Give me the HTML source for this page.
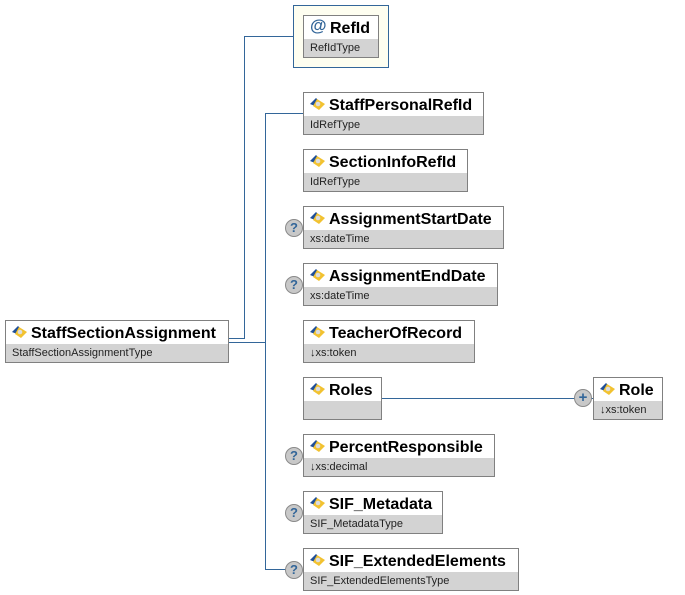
<!DOCTYPE html>
<html><head><style>
body{margin:0;width:685px;height:595px;background:#fff;position:relative;overflow:hidden;font-family:"Liberation Sans",Arial,sans-serif}
.b{position:absolute;border:1px solid #808080;box-sizing:border-box;background:#d3d3d3}
.b .h{height:23px;background:#fff;font-weight:bold;font-size:16px;line-height:25px;padding-left:25px;white-space:nowrap;position:relative}
.b .t{font-size:11px;padding-left:6px;line-height:18px;color:#222;white-space:nowrap}
.ic{position:absolute;left:6px;top:5px;width:16px;height:13px}
.l{position:absolute;background:#336699}
.q{position:absolute;width:18px;height:18px;box-sizing:border-box;border-radius:50%;background:#c8c8c8;border:1px solid #8a8a8a;color:#336699;font-weight:bold;font-size:13px;line-height:16px;text-align:center}
</style></head><body>
<svg width="0" height="0" style="position:absolute"><defs><g id="e"><path d="M0 6 L6 0 L9 3 L5 8 Z" fill="#1f4f99"/><path d="M7 1 L15 6 L9 12 L3 8 Z" fill="#f2c230"/><circle cx="8" cy="6" r="2.3" fill="#ddd"/></g></defs></svg>

<div class="l" style="left:228px;top:338px;width:17px;height:1px"></div>
<div class="l" style="left:244px;top:36px;width:1px;height:303px"></div>
<div class="l" style="left:244px;top:36px;width:49px;height:1px"></div>
<div class="l" style="left:228px;top:342px;width:38px;height:1px"></div>
<div class="l" style="left:265px;top:113px;width:1px;height:457px"></div>
<div class="l" style="left:265px;top:113px;width:38px;height:1px"></div>
<div class="l" style="left:265px;top:569px;width:22px;height:1px"></div>
<div class="l" style="left:381px;top:398px;width:212px;height:1px"></div>

<div style="position:absolute;left:293px;top:5px;width:96px;height:63px;box-sizing:border-box;border:1px solid #336699;background:#fefef0"></div>
<div class="b" style="left:303px;top:15px;width:76px;height:43px"><div class="h" style="padding-left:26px"><span style="position:absolute;left:6px;top:-3px;color:#336699;font-size:17px">@</span>RefId</div><div class="t">RefIdType</div></div>

<div class="b" style="left:5px;top:320px;width:224px;height:43px"><div class="h"><svg class="ic"><use href="#e"/></svg>StaffSectionAssignment</div><div class="t">StaffSectionAssignmentType</div></div>

<div class="b" style="left:303px;top:92px;width:181px;height:43px"><div class="h"><svg class="ic"><use href="#e"/></svg>StaffPersonalRefId</div><div class="t">IdRefType</div></div>
<div class="b" style="left:303px;top:149px;width:165px;height:43px"><div class="h"><svg class="ic"><use href="#e"/></svg>SectionInfoRefId</div><div class="t">IdRefType</div></div>
<div class="b" style="left:303px;top:206px;width:201px;height:43px"><div class="h"><svg class="ic"><use href="#e"/></svg>AssignmentStartDate</div><div class="t">xs:dateTime</div></div>
<div class="b" style="left:303px;top:263px;width:195px;height:43px"><div class="h"><svg class="ic"><use href="#e"/></svg>AssignmentEndDate</div><div class="t">xs:dateTime</div></div>
<div class="b" style="left:303px;top:320px;width:172px;height:43px"><div class="h"><svg class="ic"><use href="#e"/></svg>TeacherOfRecord</div><div class="t">↓xs:token</div></div>
<div class="b" style="left:303px;top:377px;width:79px;height:43px"><div class="h"><svg class="ic"><use href="#e"/></svg>Roles</div><div class="t"></div></div>
<div class="b" style="left:593px;top:377px;width:70px;height:43px"><div class="h"><svg class="ic"><use href="#e"/></svg>Role</div><div class="t">↓xs:token</div></div>
<div class="b" style="left:303px;top:434px;width:192px;height:43px"><div class="h"><svg class="ic"><use href="#e"/></svg>PercentResponsible</div><div class="t">↓xs:decimal</div></div>
<div class="b" style="left:303px;top:491px;width:140px;height:43px"><div class="h"><svg class="ic"><use href="#e"/></svg>SIF_Metadata</div><div class="t">SIF_MetadataType</div></div>
<div class="b" style="left:303px;top:548px;width:216px;height:43px"><div class="h"><svg class="ic"><use href="#e"/></svg>SIF_ExtendedElements</div><div class="t">SIF_ExtendedElementsType</div></div>

<div class="q" style="left:285px;top:219px">?</div>
<div class="q" style="left:285px;top:276px">?</div>
<div class="q" style="left:285px;top:447px">?</div>
<div class="q" style="left:285px;top:504px">?</div>
<div class="q" style="left:285px;top:561px">?</div>
<div class="q" style="left:574px;top:389px;font-size:15px">+</div>
</body></html>
